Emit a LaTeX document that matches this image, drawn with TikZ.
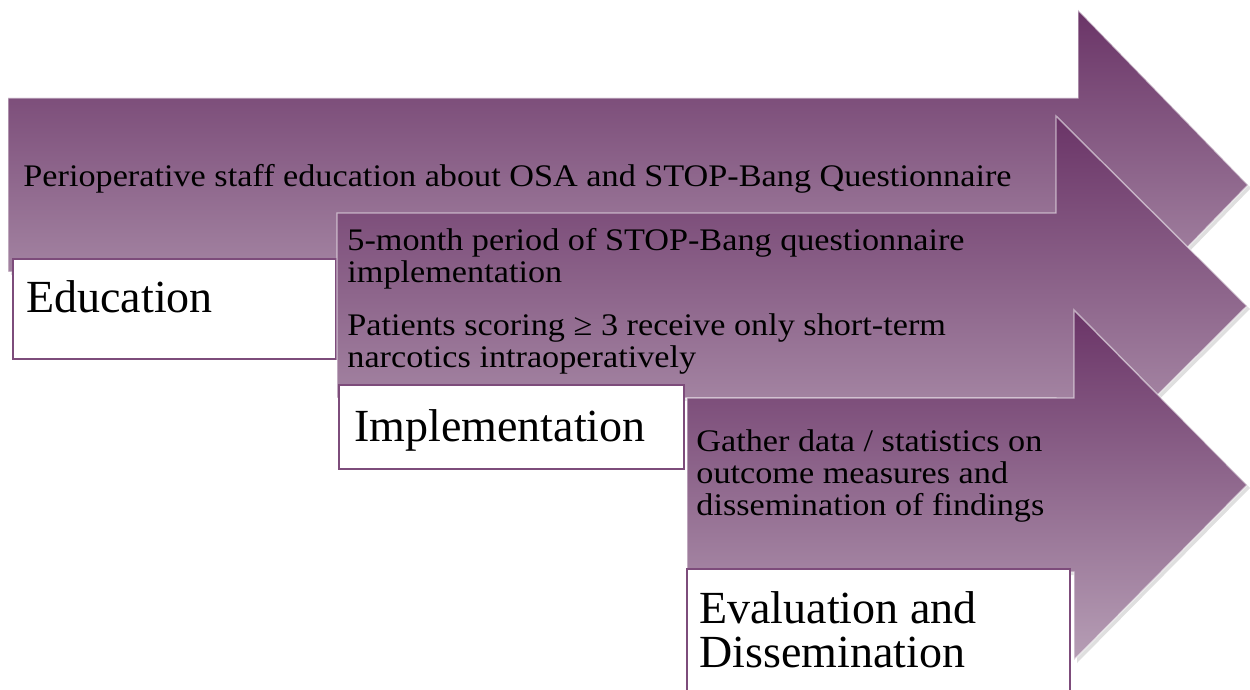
\documentclass[tikz,border=0pt]{standalone}
\usepackage{fontspec}
\setmainfont{Liberation Serif}
\newfontfamily\descfont{Liberation Serif}[FakeStretch=1.09]
\usepackage{xcolor}
\usetikzlibrary{positioning,shadows}
\definecolor{plumtop}{HTML}{6A3467}
\definecolor{plumbot}{HTML}{B69EB5}
\definecolor{plumline}{HTML}{7D4C7B}

\begin{document}
\begin{tikzpicture}[x=0.5pt,y=-0.5pt,
  stagearrow/.style={top color=plumtop,bottom color=plumbot,draw=white,draw opacity=.55,line width=.7pt,
    drop shadow={opacity=.25,shadow xshift=1.5pt,shadow yshift=-1.5pt}},
  stagebox/.style={draw=plumline,fill=white,line width=.8pt,anchor=north west,inner sep=0pt},
  stagelbl/.style={anchor=west,inner sep=0pt,align=left,font=\fontsize{23}{22}\selectfont},
  stepdesc/.style={anchor=west,inner sep=0pt,align=left,font=\descfont\fontsize{15.7}{16.2}\selectfont}]
  \useasboundingbox (0,0) rectangle (1250,690);
  \path[stagearrow] (8,98) -- (1078,98) -- (1078,10) -- (1248,185) -- (1078,360) -- (1078,272) -- (8,272) -- cycle;
  \node[stagebox,minimum width=161.5pt,minimum height=50pt] (edu) at (12,258) {};
  \path[stagearrow] (337,213) -- (1056,213) -- (1056,116) -- (1247,306) -- (1056,496) -- (1056,398) -- (337,398) -- cycle;
  \node[stagebox,minimum width=172.5pt,minimum height=42pt] (imp) at (338,384) {};
  \path[stagearrow] (687,398) -- (1074,398) -- (1074,310) -- (1247,485) -- (1074,660) -- (1074,572) -- (687,572) -- cycle;
  \node[stagebox,minimum width=191.5pt,minimum height=66pt] (eva) at (686,568) {};
  \node[stagelbl] (edulbl) at (26,297) {Education};
  \node[stagelbl] (implbl) at (354,430) {Implementation};
  \node[stagelbl] (evalbl) at (699,630) {Evaluation and\\Dissemination};
  \node[stepdesc] (staffedu) at (23,179) {Perioperative staff education about OSA and STOP-Bang Questionnaire};
  \node[stepdesc] (period) at (347,259) {5-month period of STOP-Bang questionnaire\\implementation};
  \node[stepdesc] (scoring) at (347,344) {Patients scoring ≥ 3 receive only short-term\\narcotics intraoperatively};
  \node[stepdesc] (gather) at (696,476) {Gather data / statistics on\\outcome measures and\\dissemination of findings};
\end{tikzpicture}
\end{document}
